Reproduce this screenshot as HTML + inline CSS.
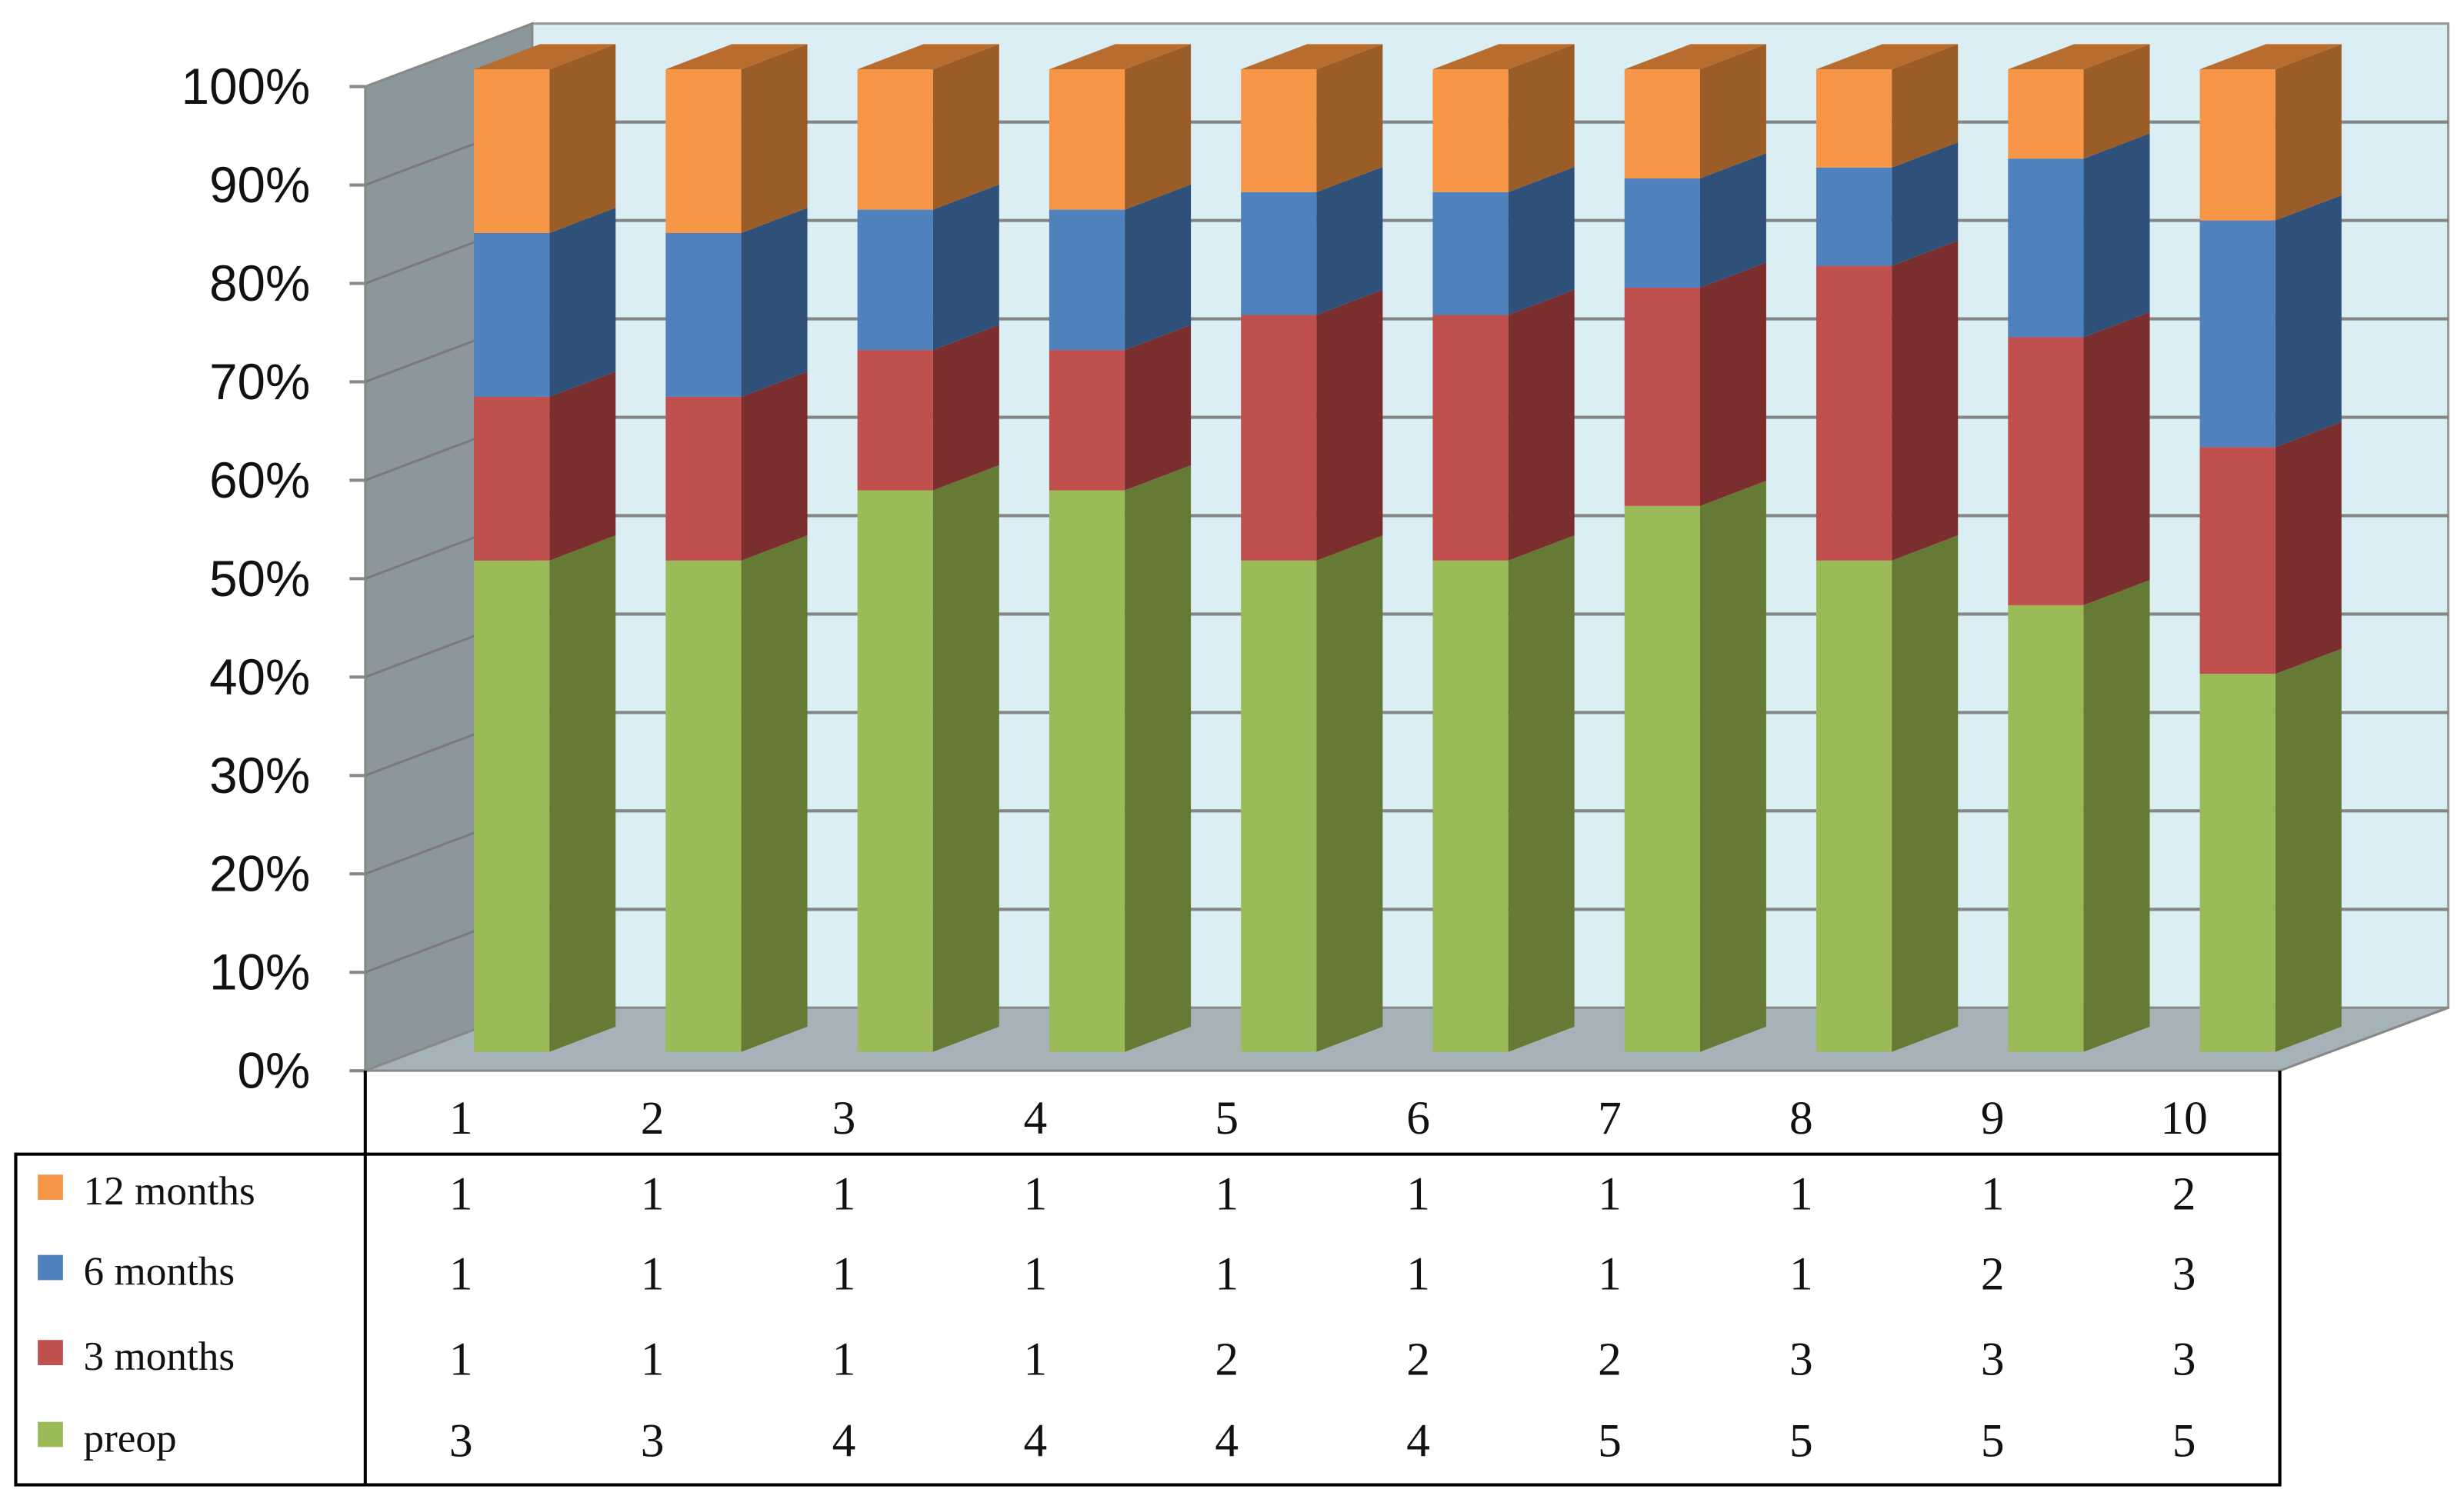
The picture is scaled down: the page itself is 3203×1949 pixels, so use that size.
<!DOCTYPE html>
<html><head><meta charset="utf-8"><style>
html,body{margin:0;padding:0;background:#fff;}
svg{display:block;}
</style></head><body>
<svg id="chart" width="3203" height="1949" viewBox="0 0 1565 952" preserveAspectRatio="none" xmlns="http://www.w3.org/2000/svg">
<g id="walls"></g><g id="grid"></g><g id="bars"></g><g id="axis"></g><g id="table"></g>
</svg>
<script>
const categories = ["1","2","3","4","5","6","7","8","9","10"];
const seriesNames = ["preop","3 months","6 months","12 months"];
const preop   = [3,3,4,4,4,4,5,5,5,5];
const m3      = [1,1,1,1,2,2,2,3,3,3];
const m6      = [1,1,1,1,1,1,1,1,2,3];
const m12     = [1,1,1,1,1,1,1,1,1,2];
const yTicks  = [0,10,20,30,40,50,60,70,80,90,100];

const NS="http://www.w3.org/2000/svg";
function mk(tag,attrs,parent){const e=document.createElementNS(NS,tag);for(const k in attrs)e.setAttribute(k,attrs[k]);parent.appendChild(e);return e;}
const DX=106, DY=-40;
const axY = v => 680 - v*6.25;
const barY = v => 668 - v*6.24;
const colX = i => 301 + i*121.8;
const tblX = i => 232 + (i+0.5)*121.6;
const walls=document.getElementById('walls'), grid=document.getElementById('grid'), bars=document.getElementById('bars'), axis=document.getElementById('axis'), table=document.getElementById('table');

let p;
p=mk('polygon',{points:`338,15 1555,15 1555,640 338,640`,fill:'#dbeef4',stroke:'#999','stroke-width':1.5},walls);

p=mk('polygon',{points:`232,55 338,15 338,640 232,680`,fill:'#8c979c',stroke:'#888','stroke-width':1.5},walls);

p=mk('polygon',{points:`232,680 338,640 1555,640 1448,680`,fill:'#a5b2b8',stroke:'#888','stroke-width':1.5},walls);


yTicks.forEach(v=>{
  const y=axY(v);
  if(v>0&&v<100){
    let l=mk('line',{x1:338,y1:y+DY,x2:1555,y2:y+DY,stroke:'#858585','stroke-width':2},grid);
    
    l=mk('line',{x1:232,y1:y,x2:338,y2:y+DY,stroke:'#7a7a7a','stroke-width':1.5},grid);
    
  }
  let t=mk('line',{x1:222,y1:y,x2:232,y2:y,stroke:'#888','stroke-width':2},axis);
  
  let tx=mk('text',{x:197,y:y+11,'text-anchor':'end','font-family':'Liberation Sans, sans-serif','font-size':32,fill:'#111'},axis);
  tx.textContent=v+'%';
  
});

const series=[preop,m3,m6,m12];
const front=['#9bbb59','#c0504d','#4f81bd','#f79646'];
const side=['#657a35','#7b2e2e','#2f5078','#9b5d28'];
const bw=48, bdx=42, bdy=-16;
categories.forEach((c,i)=>{
  const tot=series.reduce((s,a)=>s+a[i],0);
  let cum=0;
  const x=colX(i);
  series.forEach((a,k)=>{
    const y0=barY(cum/tot*100); cum+=a[i]; const y1=barY(cum/tot*100);
    let r=mk('rect',{x:x,y:y1,width:bw,height:y0-y1,fill:front[k]},bars);
    
    let s=mk('polygon',{points:`${x+bw},${y0} ${x+bw+bdx},${y0+bdy} ${x+bw+bdx},${y1+bdy} ${x+bw},${y1}`,fill:side[k]},bars);
    
    if(k===3){
      let tp=mk('polygon',{points:`${x},${y1} ${x+bdx},${y1+bdy} ${x+bw+bdx},${y1+bdy} ${x+bw},${y1}`,fill:'#b86d2f'},bars);
      
    }
  });
});

let L;
L=mk('line',{x1:232,y1:680,x2:232,y2:943,stroke:'#000','stroke-width':2},table);
L=mk('line',{x1:1448,y1:680,x2:1448,y2:943,stroke:'#000','stroke-width':2},table);
L=mk('rect',{x:10,y:733,width:1438,height:210,fill:'none',stroke:'#000','stroke-width':2},table);
categories.forEach((c,i)=>{
  let t=mk('text',{x:tblX(i),y:720,'text-anchor':'middle','font-family':'Liberation Serif, serif','font-size':30,fill:'#111'},table);
  t.textContent=c;
});
const rows=[[m12,'12 months','#f79646',757],[m6,'6 months','#4f81bd',808],[m3,'3 months','#c0504d',862],[preop,'preop','#9bbb59',914]];
rows.forEach(([arr,name,col,y])=>{
  const nm=name.replace(' ','-');
  let sq=mk('rect',{x:24,y:y-11,width:16,height:16,fill:col},table);
  
  let t=mk('text',{x:53,y:y+8,'font-family':'Liberation Serif, serif','font-size':26,fill:'#111'},table);
  t.textContent=name;
  arr.forEach((v,i)=>{
    let n=mk('text',{x:tblX(i),y:y+11,'text-anchor':'middle','font-family':'Liberation Serif, serif','font-size':30,fill:'#111'},table);
    n.textContent=v;
  });
});
</script>
</body></html>
